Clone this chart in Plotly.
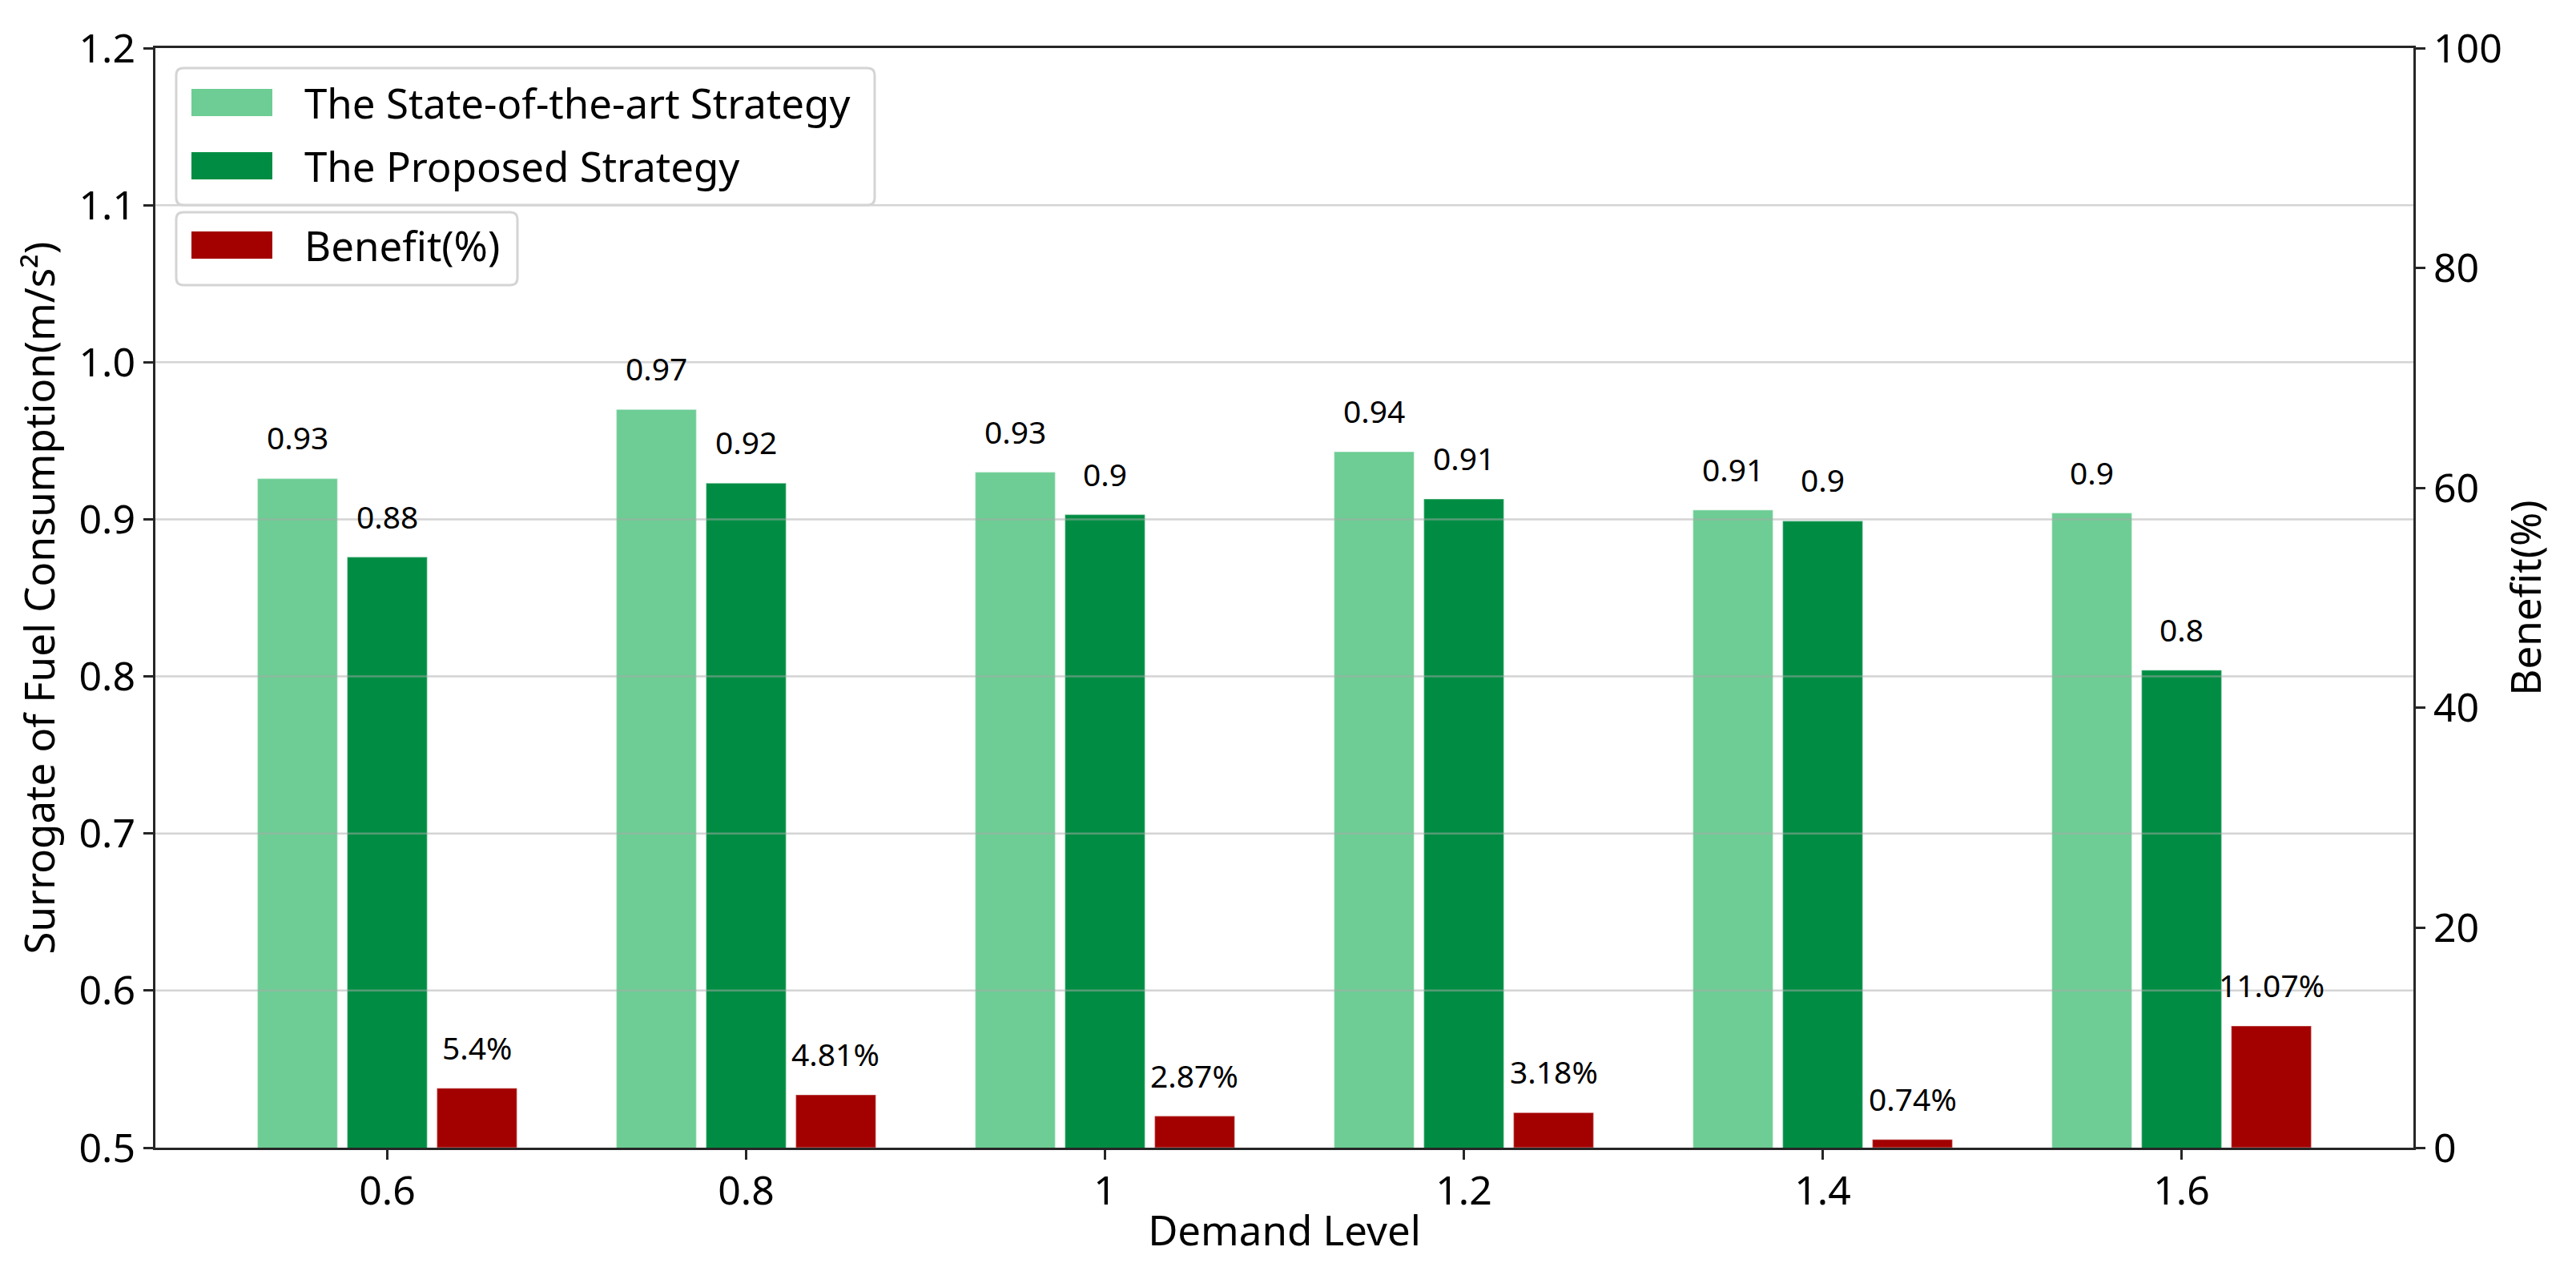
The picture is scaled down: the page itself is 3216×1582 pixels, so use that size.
import plotly.graph_objects as go

# ---------------- data ----------------
demand_levels = ["0.6", "0.8", "1", "1.2", "1.4", "1.6"]
state_of_art = [0.926, 0.970, 0.930, 0.943, 0.906, 0.904]
proposed = [0.876, 0.923, 0.903, 0.913, 0.899, 0.804]
benefit = [5.4, 4.81, 2.87, 3.18, 0.74, 11.07]
series_names = ["The State-of-the-art Strategy", "The Proposed Strategy", "Benefit(%)"]
y_ticks = [0.5, 0.6, 0.7, 0.8, 0.9, 1.0, 1.1, 1.2]
y2_ticks = [0, 20, 40, 60, 80, 100]

# ---------------- style ----------------
C_LIGHT = "#6DCD94"
C_DARK = "#008D43"
C_RED = "#A30000"
AX = "#262626"
FONT = "Noto Sans"
STEP = 0.25          # distance between bar centres inside a group
BW = 0.223           # bar width

W, H = 3216, 1582
L, R, T, B = 186, 211, 52, 157
PW, PH = W - L - R, H - T - B

x_idx = list(range(len(demand_levels)))
offs = [-STEP - BW / 2, -BW / 2, STEP - BW / 2]
edge = dict(color="rgba(255,255,255,0.35)", width=1.5)

fig = go.Figure()
fig.add_trace(go.Bar(x=x_idx, y=state_of_art, name=series_names[0], width=BW, offset=offs[0],
                     marker=dict(color=C_LIGHT, line=edge), showlegend=False))
fig.add_trace(go.Bar(x=x_idx, y=proposed, name=series_names[1], width=BW, offset=offs[1],
                     marker=dict(color=C_DARK, line=edge), showlegend=False))
fig.add_trace(go.Bar(x=x_idx, y=benefit, name=series_names[2], width=BW, offset=offs[2], yaxis="y2",
                     marker=dict(color=C_RED, line=edge), showlegend=False))

# value labels
ann = []
def fmt(v):
    return f"{round(v, 2):g}"
for i in x_idx:
    for vals, k, yref, suf in ((state_of_art, 0, "y", ""), (proposed, 1, "y", ""), (benefit, 2, "y2", "%")):
        ann.append(dict(x=i + offs[k] + BW / 2, y=vals[i], xref="x", yref=yref,
                        text=fmt(vals[i]) + suf, showarrow=False, yanchor="bottom",
                        yshift=23, font=dict(family=FONT, size=39, color="black")))

# grid lines drawn above bars (semi transparent), like the reference
for t in y_ticks[1:-1]:
    fig.add_hline(y=t, line=dict(color="rgba(170,170,170,0.5)", width=2.5), layer="above")

# ---------------- legend (two framed boxes) ----------------
def px(x):
    return (x - L) / PW
def py(y):
    return (H - B - y) / PH

def rrect(x0, y0, x1, y1, r):
    pts = [
        ("M", (x0 + r, y0)), ("L", (x1 - r, y0)), ("Q", (x1, y0), (x1, y0 + r)),
        ("L", (x1, y1 - r)), ("Q", (x1, y1), (x1 - r, y1)), ("L", (x0 + r, y1)),
        ("Q", (x0, y1), (x0, y1 - r)), ("L", (x0, y0 + r)), ("Q", (x0, y0), (x0 + r, y0)),
    ]
    s = ""
    for p in pts:
        s += p[0] + " " + " ".join(f"{px(a):.5f},{py(b):.5f}" for a, b in p[1:]) + " "
    return s + "Z"

shapes = []
legend_boxes = [(212, 77, 1084, 248), (212, 257, 638, 348)]
for (x0, y0, x1, y1) in legend_boxes:
    shapes.append(dict(type="path", path=rrect(x0, y0, x1, y1, 9), xref="paper", yref="paper",
                       fillcolor="rgba(255,255,255,0.85)", line=dict(color="#d4d4d4", width=3), layer="above"))
legend_rows = [(120, C_LIGHT, series_names[0]), (199, C_DARK, series_names[1]), (298, C_RED, series_names[2])]
for yc, col, name in legend_rows:
    shapes.append(dict(type="rect", xref="paper", yref="paper", x0=px(231), x1=px(332),
                       y0=py(yc + 17), y1=py(yc - 17), fillcolor=col, line=dict(width=0), layer="above"))
    ann.append(dict(x=px(370), y=py(yc), xref="paper", yref="paper", text=name, showarrow=False,
                    xanchor="left", yanchor="middle", font=dict(family=FONT, size=51, color="black")))

for s in shapes:
    fig.add_shape(**s)

fig.update_layout(
    width=W, height=H,
    margin=dict(l=L, r=R, t=T, b=B),
    paper_bgcolor="white", plot_bgcolor="white",
    barmode="overlay",
    font=dict(family=FONT, size=50, color="black"),
    annotations=ann,
    showlegend=False,
    xaxis=dict(
        range=[-0.646, 5.646], tickmode="array", tickvals=x_idx, ticktext=demand_levels,
        showgrid=False, zeroline=False, showline=True, linecolor=AX, linewidth=3, mirror=True,
        ticks="outside", ticklen=12, tickwidth=3, tickcolor=AX,
        tickfont=dict(family=FONT, size=50, color="black"), ticklabelstandoff=-4,
        title=dict(text="Demand Level", font=dict(family=FONT, size=51, color="black"), standoff=2),
    ),
    yaxis=dict(
        range=[0.5, 1.2], tickmode="array", tickvals=y_ticks, ticktext=[f"{v:.1f}" for v in y_ticks],
        showgrid=False, zeroline=False, showline=True, linecolor=AX, linewidth=3, mirror=True,
        ticks="outside", ticklen=12, tickwidth=3, tickcolor=AX,
        tickfont=dict(family=FONT, size=50, color="black"),
        title=dict(text="Surrogate of Fuel Consumption(m/s²)", font=dict(family=FONT, size=51, color="black"), standoff=14),
    ),
    yaxis2=dict(
        range=[0, 100], overlaying="y", side="right", tickmode="array", tickvals=y2_ticks,
        showgrid=False, zeroline=False, showline=True, linecolor=AX, linewidth=3,
        ticks="outside", ticklen=12, tickwidth=3, tickcolor=AX,
        tickfont=dict(family=FONT, size=50, color="black"),
        title=dict(text="Benefit(%)", font=dict(family=FONT, size=51, color="black"), standoff=14),
    ),
)

fig.write_html("out.html")
